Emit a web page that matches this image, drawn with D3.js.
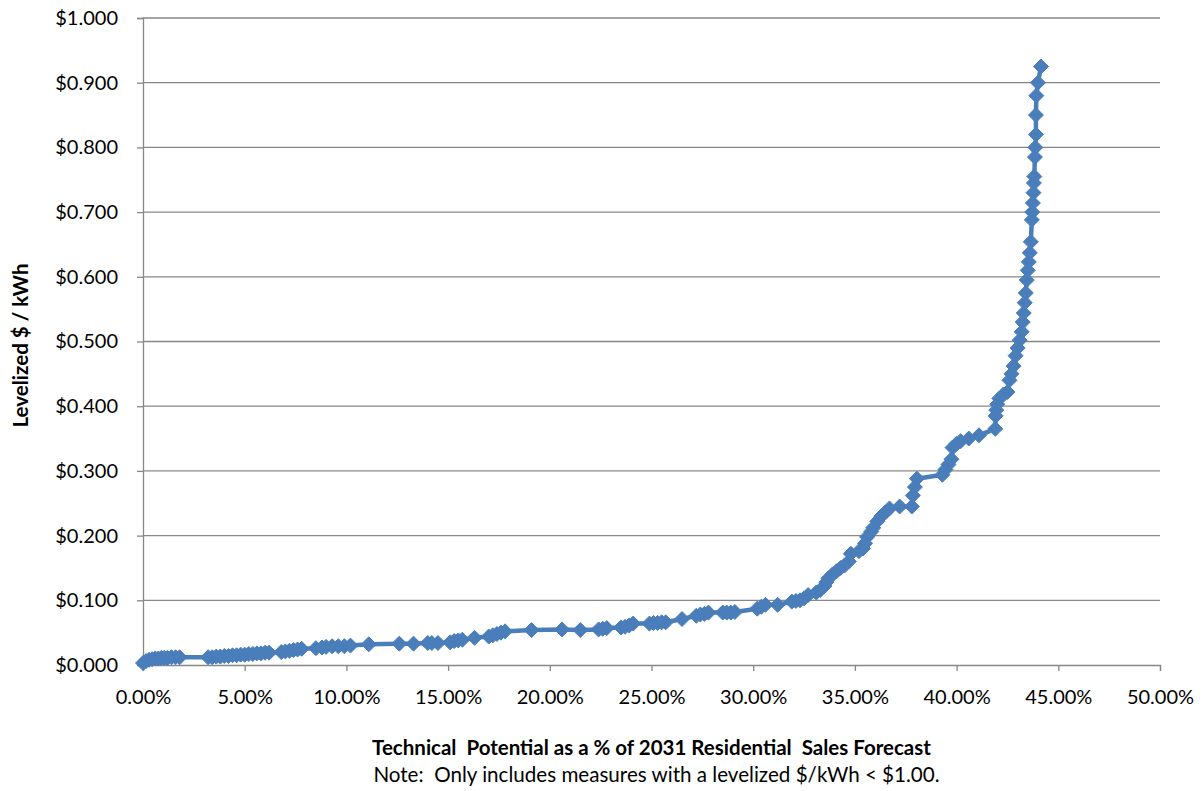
<!DOCTYPE html>
<html>
<head>
<meta charset="utf-8">
<script src="https://cdn.jsdelivr.net/npm/d3@7"></script>
<style>
  html, body { margin: 0; padding: 0; background: #ffffff; }
  svg { display: block; font-family: Lato, "Liberation Sans", sans-serif; }
</style>
</head>
<body>
<svg id="chart" width="1203" height="791"></svg>
<script>
// Cumulative technical potential (% of 2031 residential sales) by levelized cost
const potentialPct = [
  0.0, 0.15, 0.3, 0.45, 0.6, 0.75, 0.9, 1.05, 1.2, 1.4, 1.6, 1.8,
  3.2, 3.4, 3.6, 3.8, 4.0, 4.2, 4.4, 4.6, 4.8, 5.0, 5.2, 5.4, 5.6, 5.8, 6.0, 6.2,
  6.8, 7.0, 7.2, 7.4, 7.6, 7.8,
  8.5, 8.8, 9.0, 9.3, 9.6, 9.9, 10.2, 11.1,
  12.6, 13.3, 14.0, 14.2, 14.5,
  15.1, 15.3, 15.5, 15.7, 16.3,
  17.0, 17.2, 17.4, 17.6, 17.8,
  19.1, 20.6, 21.5, 22.4, 22.6, 22.8,
  23.5, 23.7, 23.9, 24.1,
  24.9, 25.1, 25.3, 25.5, 25.7,
  26.5, 27.2, 27.4, 27.6, 27.8,
  28.5, 28.7, 28.9, 29.1,
  30.2, 30.4, 30.6, 31.2,
  31.9, 32.1, 32.3, 32.5, 32.7,
  33.1, 33.3, 33.5, 33.6, 33.7, 33.9, 34.1, 34.3, 34.5, 34.7, 34.8,
  35.2, 35.4, 35.5, 35.6, 35.8, 35.9, 36.1, 36.3, 36.5, 36.7,
  37.2, 37.8, 37.85, 37.95, 38.05,
  39.3, 39.45, 39.6, 39.75, 39.8, 40.0, 40.2, 40.6, 41.1,
  41.9, 41.92, 41.95, 42.0, 42.1, 42.3, 42.5, 42.6, 42.7, 42.8, 42.9, 43.0, 43.1,
  43.2, 43.25, 43.3, 43.35, 43.4, 43.45, 43.5, 43.55, 43.6, 43.65, 43.7, 43.72,
  43.75, 43.78, 43.8, 43.82, 43.85, 43.87, 43.9, 43.9, 43.92, 44.0, 44.15
];
const levelizedCost = [
  0.003, 0.006, 0.008, 0.009, 0.010, 0.010, 0.011, 0.011, 0.011, 0.012, 0.012, 0.012,
  0.012, 0.012, 0.013, 0.013, 0.014, 0.014, 0.015, 0.015, 0.016, 0.016, 0.017, 0.017, 0.018, 0.018, 0.019, 0.019,
  0.020, 0.021, 0.022, 0.023, 0.024, 0.025,
  0.026, 0.027, 0.028, 0.029, 0.029, 0.029, 0.030, 0.032,
  0.033, 0.033, 0.034, 0.034, 0.034,
  0.035, 0.037, 0.038, 0.039, 0.042,
  0.044, 0.046, 0.048, 0.050, 0.052,
  0.054, 0.055, 0.054, 0.055, 0.056, 0.057,
  0.058, 0.059, 0.061, 0.064,
  0.064, 0.065, 0.065, 0.066, 0.066,
  0.071, 0.076, 0.078, 0.079, 0.081,
  0.081, 0.081, 0.081, 0.082,
  0.087, 0.090, 0.093, 0.093,
  0.098, 0.099, 0.100, 0.103, 0.108,
  0.112, 0.116, 0.122, 0.128, 0.134, 0.140, 0.145, 0.150, 0.154, 0.160, 0.172,
  0.176, 0.180, 0.188, 0.198, 0.206, 0.212, 0.222, 0.230, 0.236, 0.242,
  0.245, 0.245, 0.262, 0.275, 0.288,
  0.294, 0.302, 0.310, 0.318, 0.336, 0.342, 0.346, 0.350, 0.355,
  0.365, 0.385, 0.394, 0.403, 0.412, 0.418, 0.422, 0.440, 0.450, 0.462, 0.478, 0.490, 0.502,
  0.515, 0.530, 0.544, 0.560, 0.575, 0.595, 0.610, 0.623, 0.637, 0.654, 0.688, 0.700,
  0.714, 0.730, 0.745, 0.755, 0.785, 0.800, 0.820, 0.850, 0.880, 0.900, 0.925
];

const xTickValues = [0, 5, 10, 15, 20, 25, 30, 35, 40, 45, 50];
const yTickValues = [0, 0.1, 0.2, 0.3, 0.4, 0.5, 0.6, 0.7, 0.8, 0.9, 1.0];

const xTitle = "Technical  Potential as a % of 2031 Residential  Sales Forecast";
const noteText = "Note:  Only includes measures with a levelized $/kWh < $1.00.";
const yTitle = "Levelized $ / kWh";

const points = potentialPct.map((p, i) => ({ pct: p, cost: levelizedCost[i] }));

const svg = d3.select("#chart");
const plot = { left: 143, right: 1160, top: 18, bottom: 665 };

const x = d3.scaleLinear().domain([0, 50]).range([plot.left, plot.right]);
const y = d3.scaleLinear().domain([0, 1]).range([plot.bottom, plot.top]);

const gridColor = "#878787";
const seriesColor = "#4a7ebb";

// horizontal gridlines
svg.append("g")
  .selectAll("line")
  .data(yTickValues.filter(v => v > 0))
  .join("line")
  .attr("x1", plot.left).attr("x2", plot.right)
  .attr("y1", d => y(d)).attr("y2", d => y(d))
  .attr("stroke", gridColor).attr("stroke-width", 1.3);

// y axis
const yAxis = d3.axisLeft(y)
  .tickValues(yTickValues)
  .tickFormat(d => "$" + d.toFixed(3))
  .tickSize(6)
  .tickPadding(19);
const gy = svg.append("g").attr("transform", `translate(${plot.left},0)`).call(yAxis);
gy.select(".domain").attr("stroke", gridColor).attr("stroke-width", 1.3);
gy.selectAll(".tick line").attr("stroke", gridColor).attr("stroke-width", 1.3);
gy.selectAll(".tick text")
  .attr("fill", "#000").attr("font-size", 20)
  .attr("font-family", "Lato, 'Liberation Sans', sans-serif");

// x axis
const xAxis = d3.axisBottom(x)
  .tickValues(xTickValues)
  .tickFormat(d => d.toFixed(2) + "%")
  .tickSize(6)
  .tickPadding(19);
const gx = svg.append("g").attr("transform", `translate(0,${plot.bottom})`).call(xAxis);
gx.select(".domain").attr("stroke", gridColor).attr("stroke-width", 1.3);
gx.selectAll(".tick line").attr("stroke", gridColor).attr("stroke-width", 1.3);
gx.selectAll(".tick text")
  .attr("fill", "#000").attr("font-size", 20)
  .attr("font-family", "Lato, 'Liberation Sans', sans-serif");

// series line
const line = d3.line().x(d => x(d.pct)).y(d => y(d.cost));
svg.append("path")
  .datum(points)
  .attr("d", line)
  .attr("fill", "none")
  .attr("stroke", seriesColor)
  .attr("stroke-width", 4.5)
  .attr("stroke-linejoin", "round");

// diamond markers
const r = 7.5;
svg.append("g")
  .selectAll("path")
  .data(points)
  .join("path")
  .attr("d", d => {
    const cx = x(d.pct), cy = y(d.cost);
    return `M${cx},${cy - r}L${cx + r},${cy}L${cx},${cy + r}L${cx - r},${cy}Z`;
  })
  .attr("fill", seriesColor)
  .attr("stroke", seriesColor)
  .attr("stroke-width", 1);

// axis titles
svg.append("text")
  .attr("x", (plot.left + plot.right) / 2)
  .attr("y", 755)
  .attr("text-anchor", "middle")
  .attr("font-size", 20.5)
  .attr("font-weight", "bold")
  .style("white-space", "pre")
  .text(xTitle);

svg.append("text")
  .attr("x", (plot.left + plot.right) / 2 + 5)
  .attr("y", 782)
  .attr("text-anchor", "middle")
  .attr("font-size", 20.6)
  .style("white-space", "pre")
  .text(noteText);

svg.append("text")
  .attr("transform", `translate(28,${(plot.top + plot.bottom) / 2 + 4}) rotate(-90)`)
  .attr("text-anchor", "middle")
  .attr("font-size", 20.5)
  .attr("font-weight", "bold")
  .text(yTitle);
</script>
</body>
</html>
